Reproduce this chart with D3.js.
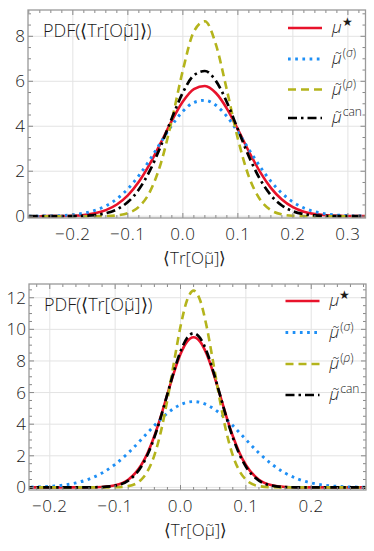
<!DOCTYPE html>
<html><head><meta charset="utf-8">
<script src="https://cdn.jsdelivr.net/npm/d3@7"></script>
<style>
html,body{margin:0;padding:0;background:#fff;}
svg{display:block;}
text{font-family:"Open Sans",sans-serif;fill:#1a1a1a;}
</style></head>
<body><svg id="c" width="374" height="551"></svg>
<script>
// ---------- data ----------
const xTop = [-0.28,-0.26,-0.24,-0.22,-0.20,-0.18,-0.16,-0.14,-0.12,-0.10,-0.08,-0.06,-0.04,-0.02,0.00,0.02,0.04,0.06,0.08,0.10,0.12,0.14,0.16,0.18,0.20,0.22,0.24,0.26,0.28,0.30,0.32,0.34];
const topStar  = [0.000,0.001,0.003,0.009,0.023,0.057,0.128,0.269,0.519,0.926,1.527,2.325,3.271,4.250,5.100,5.654,5.791,5.478,4.787,3.863,2.880,1.984,1.262,0.742,0.403,0.202,0.093,0.040,0.016,0.006,0.002,0.001];
const topSigma = [0.002,0.005,0.013,0.031,0.067,0.135,0.257,0.459,0.771,1.217,1.804,2.512,3.287,4.039,4.663,5.058,5.154,4.933,4.435,3.747,2.973,2.217,1.552,1.021,0.631,0.366,0.200,0.102,0.049,0.022,0.009,0.004];
const topRho   = [0,0,0,0,0,0.000,0.002,0.008,0.035,0.132,0.414,1.080,2.354,4.278,6.488,8.210,8.669,7.637,5.613,3.443,1.762,0.752,0.268,0.080,0.020,0.004,0.001,0,0,0,0,0];
const topCan   = [0,0,0,0.002,0.006,0.018,0.051,0.131,0.302,0.630,1.188,2.026,3.126,4.358,5.495,6.265,6.457,6.017,5.070,3.862,2.660,1.656,0.932,0.475,0.219,0.091,0.034,0.012,0.004,0.001,0,0];

const xBot = [-0.24,-0.22,-0.20,-0.18,-0.16,-0.14,-0.12,-0.10,-0.08,-0.06,-0.05,-0.04,-0.03,-0.02,-0.01,0.00,0.01,0.02,0.03,0.04,0.05,0.06,0.07,0.08,0.09,0.10,0.12,0.14,0.16,0.18,0.20,0.22,0.24,0.26,0.28,0.30];
const botStar  = [0,0,0,0,0.001,0.005,0.028,0.131,0.486,1.416,2.211,3.256,4.516,5.902,7.268,8.434,9.222,9.50,9.222,8.434,7.268,5.902,4.516,3.256,2.211,1.416,0.486,0.131,0.028,0.005,0.001,0,0,0,0,0];
const botSigma = [0.011,0.028,0.065,0.141,0.282,0.525,0.907,1.458,2.179,3.027,3.471,3.909,4.322,4.692,5.002,5.235,5.381,5.43,5.381,5.235,5.002,4.692,4.322,3.909,3.471,3.027,2.179,1.458,0.907,0.525,0.282,0.141,0.065,0.028,0.011,0.004];
const botRho   = [0,0,0,0,0,0,0.001,0.009,0.081,0.495,1.054,2.029,3.532,5.560,7.911,10.177,11.839,12.45,11.839,10.177,7.911,5.560,3.532,2.029,1.054,0.495,0.081,0.009,0.001,0,0,0,0,0,0,0];
const botCan   = [0,0,0,0,0,0.003,0.021,0.108,0.428,1.320,2.109,3.166,4.464,5.914,7.359,8.604,9.450,9.75,9.450,8.604,7.359,5.914,4.464,3.166,2.109,1.320,0.428,0.108,0.021,0.003,0,0,0,0,0,0];

const xTicksTop = [-0.2,-0.1,0.0,0.1,0.2,0.3];
const yTicksTop = [0,2,4,6,8];
const xTicksBot = [-0.2,-0.1,0.0,0.1,0.2];
const yTicksBot = [0,2,4,6,8,10,12];
const xDomTop = [-0.2815, 0.332];
const yDomTop = [-0.08, 9.17];
const xDomBot = [-0.2318, 0.2838];
const yDomBot = [-0.165, 12.87];

const seriesKeys = ["star","sigma","rho","can"];
// ---------- styles ----------
const styles = {
  star:  {color:"#e8132b", dash:null, width:2.6},
  sigma: {color:"#1e8ff5", dash:"2.7,4.5", width:2.9},
  rho:   {color:"#b4b41c", dash:"8,5", width:2.6},
  can:   {color:"#000000", dash:"9,4,2.5,4", width:2.7}
};

const svg = d3.select("#c");
const fmt = d => d === 0 ? "0.0" : (d < 0 ? "\u2212" + d3.format(".1f")(-d) : d3.format(".1f")(d));
const FS = 17;

function panel(cfg, idx){
  const x = d3.scaleLinear().domain(cfg.xDom).range([cfg.left, cfg.right]);
  const y = d3.scaleLinear().domain(cfg.yDom).range([cfg.bottom, cfg.top]);
  const g = svg.append("g");
  const clipId = "clip"+idx;
  svg.append("clipPath").attr("id",clipId).append("rect")
    .attr("x",cfg.left).attr("y",cfg.top).attr("width",cfg.right-cfg.left).attr("height",cfg.bottom-cfg.top);
  // grid
  g.append("g").selectAll("line").data(cfg.xTicks).join("line")
    .attr("x1",d=>x(d)).attr("x2",d=>x(d)).attr("y1",cfg.top).attr("y2",cfg.bottom)
    .attr("stroke","#e3e3e3").attr("stroke-width",1);
  g.append("g").selectAll("line").data(cfg.yTicks).join("line")
    .attr("y1",d=>y(d)).attr("y2",d=>y(d)).attr("x1",cfg.left).attr("x2",cfg.right)
    .attr("stroke","#e3e3e3").attr("stroke-width",1);
  // curves
  const line = d3.line().x(d=>x(d[0])).y(d=>y(d[1])).curve(d3.curveMonotoneX);
  const cg = g.append("g").attr("clip-path",`url(#${clipId})`);
  cfg.series.forEach((vals,i)=>{
    const st = styles[seriesKeys[i]];
    cg.append("path").datum(cfg.xs.map((xv,j)=>[xv,vals[j]]))
      .attr("d",line).attr("fill","none").attr("stroke",st.color)
      .attr("stroke-width",st.width).attr("stroke-dasharray",st.dash)
      .attr("stroke-linejoin","round");
  });
  // frame ticks (inward, all sides)
  const tk = g.append("g").attr("stroke","#888").attr("stroke-width",1);
  const xMinor = d3.range(Math.ceil(cfg.xDom[0]/0.02), Math.floor(cfg.xDom[1]/0.02)+1).map(k=>k*0.02);
  const yMinor = d3.range(Math.ceil(cfg.yDom[0]/0.5), Math.floor(cfg.yDom[1]/0.5)+1).map(k=>k*0.5);
  const isMajX = v => Math.abs(v*10 - Math.round(v*10)) < 1e-6;
  const isMajY = v => Math.abs(v/2 - Math.round(v/2)) < 1e-6;
  xMinor.forEach(v=>{
    const L = isMajX(v) ? 5 : 3;
    tk.append("line").attr("x1",x(v)).attr("x2",x(v)).attr("y1",cfg.bottom).attr("y2",cfg.bottom-L);
    tk.append("line").attr("x1",x(v)).attr("x2",x(v)).attr("y1",cfg.top).attr("y2",cfg.top+L);
  });
  yMinor.forEach(v=>{
    const L = isMajY(v) ? 5 : 3;
    tk.append("line").attr("y1",y(v)).attr("y2",y(v)).attr("x1",cfg.left).attr("x2",cfg.left+L);
    tk.append("line").attr("y1",y(v)).attr("y2",y(v)).attr("x1",cfg.right).attr("x2",cfg.right-L);
  });
  g.append("rect").attr("x",cfg.left).attr("y",cfg.top).attr("width",cfg.right-cfg.left).attr("height",cfg.bottom-cfg.top)
    .attr("fill","none").attr("stroke","#999").attr("stroke-width",1.3);
  // tick labels
  g.append("g").selectAll("text").data(cfg.xTicks).join("text")
    .attr("x",d=>x(d)).attr("y",cfg.bottom+21.5).attr("text-anchor","middle")
    .attr("font-size",FS).attr("font-weight",300).attr("letter-spacing",0.6).text(fmt);
  g.append("g").selectAll("text").data(cfg.yTicks).join("text")
    .attr("x",cfg.left-3).attr("y",d=>y(d)+6).attr("text-anchor","end")
    .attr("font-size",FS).attr("font-weight",300).text(d=>d);
  // axis label
  g.append("text").attr("x",(cfg.left+cfg.right)/2 - 2).attr("y",cfg.bottom+45.5)
    .attr("text-anchor","middle").attr("font-size",FS).attr("font-weight",300)
    .text("\u27E8Tr[O\u03BC\u0303]\u27E9");
  // inset title
  g.append("text").attr("x",cfg.left+15).attr("y",cfg.top+27).attr("font-size",18).attr("font-weight",300)
    .text("PDF(\u27E8Tr[O\u03BC\u0303]\u27E9)");
  // legend
  const lg = g.append("g");
  cfg.legendRows.forEach((ry,i)=>{
    const st = styles[seriesKeys[i]];
    lg.append("line").attr("x1",cfg.legX).attr("x2",cfg.legX+34).attr("y1",ry).attr("y2",ry)
      .attr("stroke",st.color).attr("stroke-width",st.width).attr("stroke-dasharray",st.dash);
    const t = lg.append("text").attr("x",cfg.legX+44).attr("y",ry+5).attr("font-size",17).attr("font-weight",300);
    if(i===0){
      t.append("tspan").attr("font-style","italic").text("\u03BC");
      t.append("tspan").attr("dy",-7).attr("font-size",12).text("\u2605");
    } else {
      t.append("tspan").attr("font-style","italic").text("\u03BC\u0303");
      if(i===3){
        t.append("tspan").attr("dy",-7).attr("dx",1).attr("font-size",12).text("can");
      } else {
        const s = t.append("tspan").attr("dy",-7).attr("dx",1).attr("font-size",12);
        s.append("tspan").text("(");
        s.append("tspan").attr("font-style","italic").text(i===1?"\u03C3":"\u03C1");
        s.append("tspan").text(")");
      }
    }
  });
}

panel({xDom:xDomTop, yDom:yDomTop, left:28, right:365.5, top:10, bottom:218,
  xTicks:xTicksTop, yTicks:yTicksTop, xs:xTop, series:[topStar,topSigma,topRho,topCan],
  legX:288, legendRows:[28,59,89.5,118]}, 0);
panel({xDom:xDomBot, yDom:yDomBot, left:29, right:366, top:284, bottom:490,
  xTicks:xTicksBot, yTicks:yTicksBot, xs:xBot, series:[botStar,botSigma,botRho,botCan],
  legX:285.5, legendRows:[301,332.5,364,395]}, 1);
</script></body></html>
